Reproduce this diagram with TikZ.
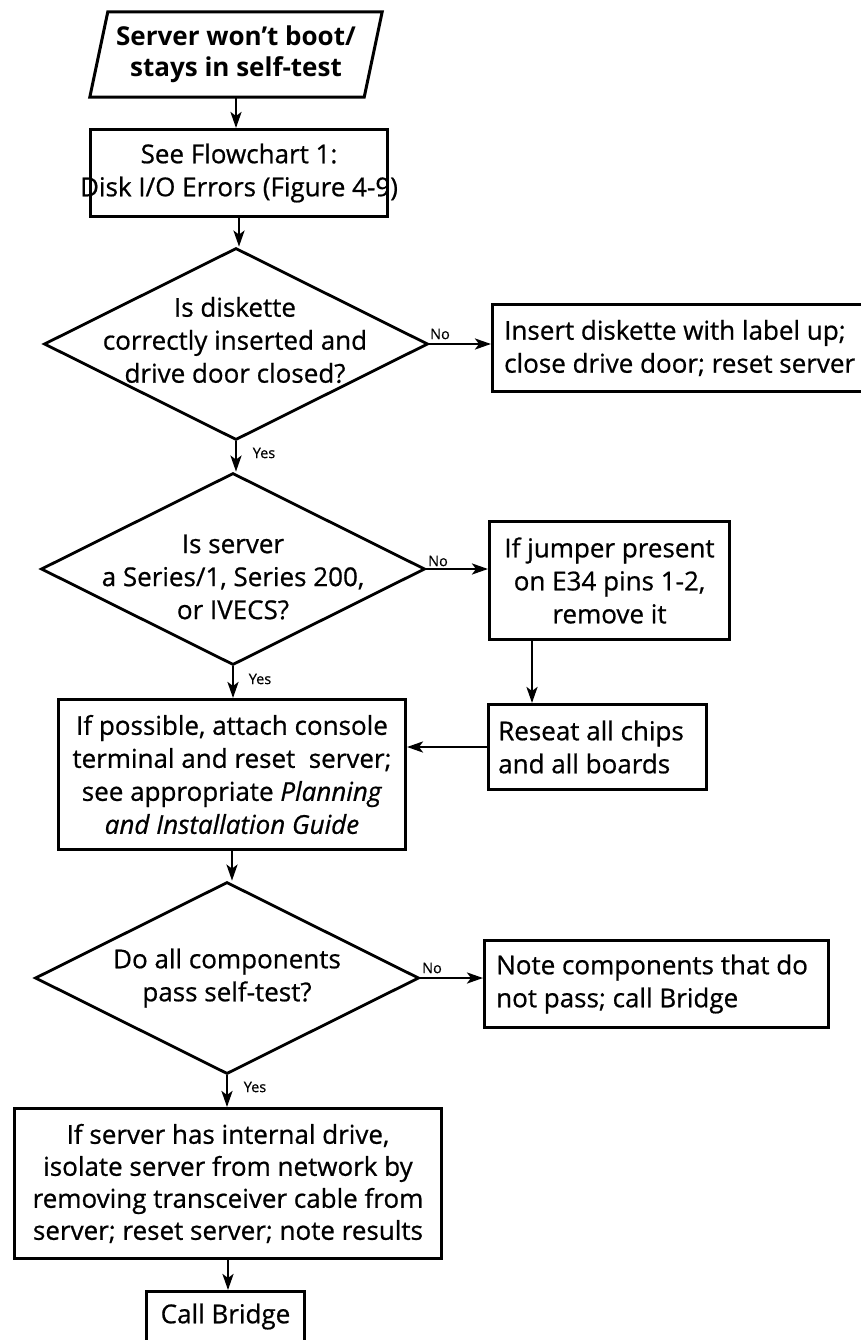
\documentclass[tikz,border=0pt]{standalone}
\usepackage{fontspec}
\setmainfont{Open Sans}
\usetikzlibrary{shapes.geometric,arrows.meta}
\begin{document}
\begin{tikzpicture}[x=1pt,y=-1pt,
  txt/.style={font=\fontsize{26}{33}\selectfont\addfontfeatures{FakeBold=0.7}, inner sep=0pt, align=center},
  lab/.style={font=\fontsize{14.5}{16}\selectfont\addfontfeatures{FakeBold=0.5}, inner sep=0pt},
  stepbox/.style={draw, line width=3pt, inner sep=0pt, anchor=north west},
  decision/.style={draw, diamond, line width=2.8pt, inner sep=0pt,
    minimum width=384pt, minimum height=192pt},
  arr/.style={line width=2.6pt, -{Stealth[length=16pt,width=11pt,inset=4pt]}}
]
\useasboundingbox (0,0) rectangle (860,1340);

% start: parallelogram
\node[txt, font=\fontsize{26}{31}\selectfont\bfseries, minimum width=274pt, minimum height=85pt] (p) at (236,54.5)
  {Server won’t boot/\\stays in self-test};
\draw[line width=3pt, line join=miter]
  ([xshift=-9pt]p.south west) -- ([xshift=9pt]p.north west) --
  ([xshift=9pt]p.north east) -- ([xshift=-9pt]p.south east) -- cycle;

% boxes
\node[stepbox, minimum width=297pt, minimum height=87pt] (b1) at (89,128) {};
\node[txt] (b1t) at (b1) {See Flowchart 1:\\Disk I/O Errors (Figure 4-9)};

\node[stepbox, minimum width=380pt, minimum height=87pt] (b2) at (491,303) {};
\node[txt, align=left, anchor=west] (b2t) at ([xshift=13pt]b2.west)
  {Insert diskette with label up;\\close drive door; reset server};

\node[stepbox, minimum width=240pt, minimum height=118pt] (b3) at (488,520) {};
\node[txt] (b3t) at (b3) {If jumper present\\on E34 pins 1-2,\\remove it};

\node[stepbox, minimum width=218pt, minimum height=85pt] (b4) at (487,703) {};
\node[txt, align=left, anchor=west] (b4t) at ([xshift=11pt]b4.west)
  {Reseat all chips\\and all boards};

\node[stepbox, minimum width=347pt, minimum height=150pt] (b5) at (57,698) {};
\node[txt] (b5t) at (b5) {If possible, attach console\\terminal and reset\ \ server;\\see appropriate \textit{Planning}\\\textit{and Installation Guide}};

\node[stepbox, minimum width=344pt, minimum height=87pt] (b6) at (483,939) {};
\node[txt, align=left, anchor=west] (b6t) at ([xshift=13pt]b6.west)
  {Note components that do\\not pass; call Bridge};

\node[stepbox, minimum width=427pt, minimum height=150pt] (b7) at (13,1107) {};
\node[txt, font=\fontsize{26}{32}\selectfont\addfontfeatures{FakeBold=0.7}] (b7t) at (b7)
  {If server has internal drive,\\isolate server from network by\\removing transceiver cable from\\server; reset server; note results};

\node[stepbox, minimum width=158pt, minimum height=50pt] (b8) at (145,1290) {};
\node[txt] (b8t) at (b8) {Call Bridge};

% decisions
\node[decision] (d1) at (236,344) {};
\node[txt] (d1t) at (235,340) {Is diskette\\correctly inserted and\\drive door closed?};

\node[decision] (d2) at (233,569) {};
\node[txt] (d2t) at (233,577) {Is server\\a Series/1, Series 200,\\or IVECS?};

\node[decision] (d3) at (227,978) {};
\node[txt] (d3t) at (227,978) {Do all components\\pass self-test?};

% branch labels
\node[lab] (n1) at (440,334) {No};
\node[lab] (n2) at (438,561) {No};
\node[lab] (n3) at (432,968) {No};
\node[lab] (y1) at (264,453) {Yes};
\node[lab] (y2) at (260,679) {Yes};
\node[lab] (y3) at (255,1087) {Yes};

% connectors
\coordinate (jx) at (532,0);
\draw[arr] (p.south) -- (p.south |- b1.north);
\draw[arr] (b1.south) -- (b1.south |- d1.north);
\draw[arr] (d1.east) -- (d1.east -| b2.west);
\draw[arr] (d1.south) -- (d1.south |- d2.north);
\draw[arr] (d2.east) -- (d2.east -| b3.west);
\draw[arr] (b3.south -| jx) -- (b4.north -| jx);
\draw[arr] (b4.west) -- (b4.west -| b5.east);
\draw[arr] (d2.south) -- (d2.south |- b5.north);
\draw[arr] (b5.south) -- (b5.south |- d3.north);
\draw[arr] (d3.east) -- (d3.east -| b6.west);
\draw[arr] (d3.south) -- (d3.south |- b7.north);
\draw[arr] (b7.south) -- (b7.south |- b8.north);
\end{tikzpicture}
\end{document}
